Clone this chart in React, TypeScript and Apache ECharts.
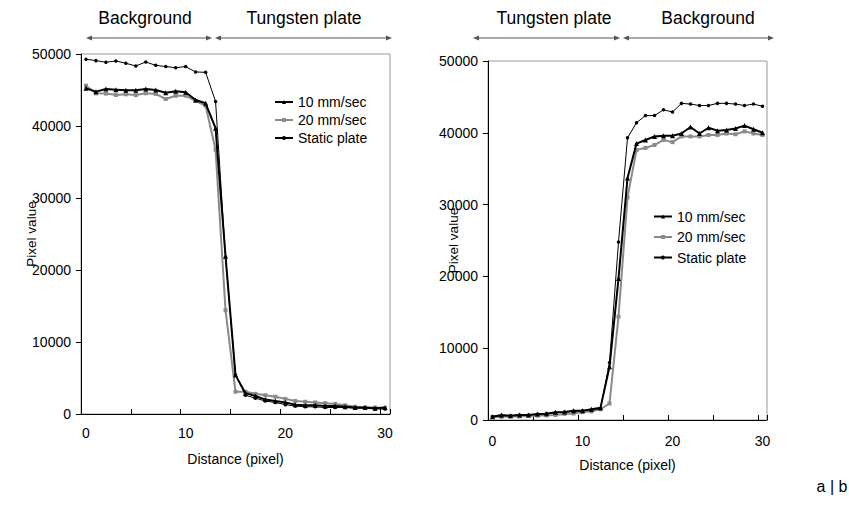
import React, { useEffect, useRef } from "react";
import * as echarts from "echarts";

const categories = ["0","1","2","3","4","5","6","7","8","9","10","11","12","13","14","15","16","17","18","19","20","21","22","23","24","25","26","27","28","29","30"];

const seriesNames = ["10 mm/sec", "20 mm/sec", "Static plate"];

const left10 = [45230, 44770, 45140, 45050, 44950, 44950, 45140, 45000, 44630, 44820, 44680, 43610, 43150, 39700, 21900, 5400, 2900, 2500, 2000, 1800, 1600, 1300, 1200, 1200, 1100, 1100, 1000, 900, 900, 800, 900];
const left20 = [45600, 44540, 44500, 44300, 44400, 44300, 44540, 44450, 43750, 44210, 44210, 43470, 42820, 36700, 14400, 3100, 3100, 2800, 2600, 2400, 2100, 1800, 1700, 1600, 1500, 1400, 1200, 1000, 900, 900, 800];
const leftStatic = [49270, 49080, 48850, 49030, 48710, 48340, 48890, 48430, 48250, 48100, 48250, 47500, 47460, 43400, 21800, 5400, 2600, 2200, 1800, 1600, 1300, 1100, 1000, 1000, 900, 900, 900, 800, 800, 700, 700];

const right10 = [460, 700, 600, 700, 700, 840, 880, 1070, 1120, 1300, 1300, 1490, 1720, 7400, 19700, 33700, 38500, 39000, 39500, 39600, 39600, 39900, 40800, 39900, 40700, 40300, 40400, 40600, 41000, 40500, 40000];
const right20 = [400, 450, 500, 500, 550, 600, 650, 700, 850, 900, 1100, 1200, 1500, 2300, 14400, 31000, 37600, 37900, 38300, 39000, 38700, 39500, 39500, 39500, 39700, 39700, 39900, 39800, 40200, 39900, 39700];
const rightStatic = [500, 600, 600, 700, 700, 800, 900, 1000, 1100, 1200, 1300, 1400, 1600, 8000, 24800, 39300, 41400, 42400, 42400, 43200, 42900, 44100, 44000, 43800, 43800, 44100, 44100, 44000, 43800, 44000, 43700];

const headersLeft = ["Background", "Tungsten plate"];
const headersRight = ["Tungsten plate", "Background"];
const panelLabel = "a | b";
const xName = "Distance (pixel)";
const yName = "Pixel value";

const FONT = "'Liberation Sans', Arial, sans-serif";

function arrow(x1: number, x2: number, y: number) {
  const c = "#555";
  return [
    { type: "line", shape: { x1: x1 + 3, y1: y, x2: x2 - 3, y2: y }, style: { stroke: c, lineWidth: 1 } },
    { type: "polygon", shape: { points: [[x1, y], [x1 + 6, y - 2.5], [x1 + 6, y + 2.5]] }, style: { fill: c } },
    { type: "polygon", shape: { points: [[x2, y], [x2 - 6, y - 2.5], [x2 - 6, y + 2.5]] }, style: { fill: c } },
  ];
}

function header(text: string, x: number, y: number) {
  return {
    type: "text",
    x,
    y,
    style: { text, fill: "#000", font: `17.5px ${FONT}`, align: "center", verticalAlign: "middle" },
  };
}

export default function App() {
  const ref = useRef<HTMLDivElement>(null);
  useEffect(() => {
    if (!ref.current) return;
    const chart = echarts.init(ref.current, null, { renderer: "svg" });

    const xAxisBase = (gridIndex: number, labelMargin: number) => ({
      type: "category",
      gridIndex,
      data: categories,
      boundaryGap: true,
      name: xName,
      nameLocation: "middle",
      nameGap: 38,
      nameMoveOverlap: false,
      nameTextStyle: { fontSize: 14, color: "#000", fontFamily: FONT },
      axisLine: { show: true, lineStyle: { color: "#000", width: 1 } },
      axisTick: { show: true, inside: true, interval: 4, length: 5, lineStyle: { color: "#000" } },
      axisLabel: { interval: 9, margin: labelMargin, fontSize: 14, color: "#000", fontFamily: FONT },
      splitLine: { show: false },
    });
    const yAxisBase = (gridIndex: number, nameGap: number) => ({
      type: "value",
      gridIndex,
      min: 0,
      max: 50000,
      interval: 10000,
      name: yName,
      nameLocation: "middle",
      nameRotate: 90,
      nameGap,
      nameMoveOverlap: false,
      nameTextStyle: { fontSize: 13.5, color: "#000", fontFamily: FONT },
      axisLine: { show: true, lineStyle: { color: "#000", width: 1 } },
      axisTick: { show: true, inside: false, length: 5, lineStyle: { color: "#000" } },
      axisLabel: { margin: 10, fontSize: 14, color: "#000", fontFamily: FONT, formatter: (v: number) => String(v) },
      splitLine: { show: false },
    });

    const mk = (name: string, data: number[], idx: number) => {
      const common = { type: "line", name, data, xAxisIndex: idx, yAxisIndex: idx, animation: false };
      if (name === "10 mm/sec")
        return { ...common, symbol: "triangle", symbolSize: 5, lineStyle: { color: "#000", width: 2 }, itemStyle: { color: "#000" }, z: 4 };
      if (name === "20 mm/sec")
        return { ...common, symbol: "rect", symbolSize: 4, lineStyle: { color: "#8a8a8a", width: 2 }, itemStyle: { color: "#8a8a8a" }, z: 3 };
      return { ...common, symbol: "circle", symbolSize: 3.5, lineStyle: { color: "#000", width: 1 }, itemStyle: { color: "#000" }, z: 5 };
    };

    const legendBase = (left: number, top: number, gap: number) => ({
      orient: "vertical",
      left,
      top,
      itemWidth: 18,
      itemHeight: 5,
      itemGap: gap,
      data: seriesNames,
      textStyle: { fontSize: 14, color: "#000", fontFamily: FONT },
      selectedMode: false,
    });

    chart.setOption({
      animation: false,
      backgroundColor: "#fff",
      textStyle: { fontFamily: FONT },
      grid: [
        { left: 81, top: 54, width: 309, height: 360, show: true, borderColor: "#999", borderWidth: 1, backgroundColor: "transparent" },
        { left: 488, top: 61, width: 279, height: 359, show: true, borderColor: "#999", borderWidth: 1, backgroundColor: "transparent" },
      ],
      xAxis: [xAxisBase(0, 12), xAxisBase(1, 14)],
      yAxis: [yAxisBase(0, 43), yAxisBase(1, 28)],
      legend: [legendBase(269, 90, 4), legendBase(648, 204.5, 6.5)],
      series: [
        mk(seriesNames[0], left10, 0),
        mk(seriesNames[1], left20, 0),
        mk(seriesNames[2], leftStatic, 0),
        mk(seriesNames[0], right10, 1),
        mk(seriesNames[1], right20, 1),
        mk(seriesNames[2], rightStatic, 1),
      ],
      graphic: [
        header(headersLeft[0], 145, 18),
        header(headersLeft[1], 304, 18),
        header(headersRight[0], 554, 18),
        header(headersRight[1], 708, 18),
        ...arrow(86, 212, 38),
        ...arrow(215, 392, 38),
        ...arrow(473, 620, 38),
        ...arrow(623, 774, 38),
        {
          type: "text",
          x: 832,
          y: 486,
          style: { text: panelLabel, fill: "#000", font: `16px ${FONT}`, align: "center", verticalAlign: "middle" },
        },
      ],
    });
    return () => chart.dispose();
  }, []);
  return (
    <div
      ref={ref}
      style={{ position: "fixed", left: 0, top: 0, width: 849, height: 527, background: "#fff" }}
    />
  );
}
